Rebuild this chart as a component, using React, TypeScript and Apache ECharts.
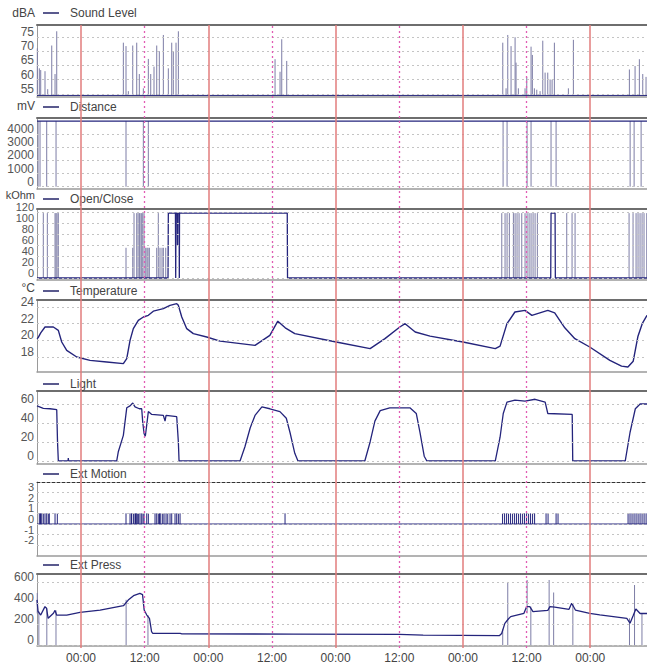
import React, { useEffect, useRef } from 'react';
import * as echarts from 'echarts';

// ---- time axis (hours from the first midnight shown) ----
const T_MIN = -8.3;
const T_MAX = 106.7;
const midnights = [0, 24, 48, 72, 96];
const noons = [12, 36, 60, 84];
const timeTicks = [0, 12, 24, 36, 48, 60, 72, 84, 96];

// ---- panel titles / units ----
const panelTitles = ['Sound Level', 'Distance', 'Open/Close', 'Temperature', 'Light', 'Ext Motion', 'Ext Press'];
const panelUnits = ['dBA', 'mV', 'kOhm', '°C', '', '', ''];

// ---- y tick labels ----
const soundTicks = [55, 60, 65, 70, 75];
const distanceTicks = [0, 1000, 2000, 3000, 4000];
const openCloseTicks = [0, 20, 40, 60, 80, 100, 120];
const temperatureTicks = [18, 20, 22, 24];
const lightTicks = [0, 20, 40, 60];
const motionTicks = [-2, -1, 0, 1, 2, 3];
const pressTicks = [0, 200, 400, 600];

// ---- Sound Level (dBA) ----
const soundFloor = 54.5;
const soundPeaks: [number, number][] = [
  [-8.24, 71], [-7.86, 64], [-7.6, 63.4], [-6.79, 63], [-6.28, 56.7], [-5.52, 72], [-4.9, 62], [-4.58, 77],
  [7.98, 73], [8.48, 71.8], [8.92, 56], [9.75, 72], [10.5, 73], [10.99, 62], [11.75, 57], [12.69, 67.3],
  [13.14, 62], [13.76, 64.6], [14.27, 72], [14.76, 70], [15.52, 75.7], [16.46, 64], [17.1, 73], [17.4, 70],
  [17.91, 73], [18.35, 77],
  [36.58, 67.2], [37.52, 62.8], [37.84, 74.2], [38.78, 66.6],
  [79.51, 73], [80.13, 57], [80.45, 75.7], [81.07, 71.8], [81.83, 74.9], [82.01, 66], [82.45, 57], [83.71, 57],
  [84.03, 61], [84.84, 71.6], [85.09, 68.7], [85.47, 57], [85.92, 56.5], [86.54, 56], [87.05, 73.7], [87.49, 62.5],
  [87.99, 62.5], [88.43, 60.1], [88.81, 60], [89.24, 73], [91.88, 57], [92.82, 74],
  [103.38, 63.6], [104.45, 64.8], [105.26, 67.2], [105.9, 62], [106.52, 61],
];

// ---- Distance (mV) ----
const distanceLevel = 4980;
const distanceDrops = [-8.1, -7.73, -6.47, -4.71, 8.48, 11.75, 12.69, 79.57, 80.32, 84.09, 84.84, 88.61, 89.56, 103.52, 104.27, 105.59];

// ---- Open/Close (kOhm) ----
const openCloseLine: [number, number][] = [
  [T_MIN, 0], [16.4, 0], [16.46, 118], [17.8, 118], [17.85, 0], [17.9, 118], [18.15, 118], [18.19, 60],
  [18.23, 118], [18.5, 118], [18.53, 0], [18.57, 118], [38.88, 118], [38.93, 0], [88.55, 0], [88.61, 118],
  [89.37, 118], [89.42, 0], [T_MAX, 0],
];
const openCloseSpikes: [number, number][] = [
  [-7.11, 118], [-6.35, 118], [-4.9, 118], [-4.71, 118], [-4.52, 118], [-4.28, 118],
  [8.48, 55], [9.75, 55], [9.99, 118], [10.5, 118], [10.75, 118], [10.99, 118], [11.12, 118], [11.37, 118],
  [11.63, 118], [11.88, 118], [12.2, 55], [12.44, 55], [12.63, 55], [12.88, 55], [14.27, 55], [14.57, 118],
  [14.89, 55], [15.27, 55], [15.52, 55], [15.97, 55],
  [79.32, 118], [79.94, 118], [80.32, 118], [80.75, 118], [81.51, 118], [81.83, 118], [82.2, 118], [82.58, 118],
  [83.09, 118], [83.71, 118], [84.09, 118], [84.47, 118], [84.84, 118], [85.22, 118], [85.6, 118], [86.03, 118],
  [91.57, 118], [92.57, 118], [93.14, 118],
  [103.32, 118], [104.07, 118], [104.64, 118], [105.01, 118], [105.39, 118], [105.77, 118], [106.14, 118], [106.65, 118],
];

// ---- Temperature (°C) ----
const temperature: [number, number][] = [
  [-8.3, 20.2], [-8.11, 20.3], [-7.6, 20.9], [-6.79, 21.6], [-5.22, 21.6], [-4.28, 21.2], [-3.64, 19.8],
  [-2.7, 18.8], [-0.81, 18.0], [1.7, 17.6], [4.85, 17.4], [7.98, 17.2], [8.62, 17.8], [9.24, 20.0],
  [9.86, 21.4], [10.8, 22.4], [11.75, 22.8], [12.69, 23.0], [13.63, 23.5], [15.52, 23.8], [16.78, 24.2],
  [18.04, 24.4], [18.35, 24.2], [18.99, 22.8], [19.93, 21.4], [21.17, 20.8], [23.7, 20.4], [26.21, 19.9],
  [32.8, 19.4], [35.6, 20.6], [37.1, 22.3], [38.5, 21.5], [40.3, 20.8], [48.1, 19.8], [54.5, 19.0],
  [57.3, 20.2], [60.1, 21.6], [61.1, 22.0], [63.0, 21.0], [65.8, 20.5], [72.0, 19.8], [78.1, 19.0],
  [79.0, 19.3], [80.3, 22.0], [81.8, 23.4], [83.7, 23.6], [85.0, 23.0], [86.5, 23.3], [88.0, 23.6],
  [89.3, 23.3], [91.2, 21.5], [93.1, 20.2], [95.9, 19.2], [99.7, 17.6], [101.9, 16.9], [103.1, 16.8],
  [104.1, 17.5], [105.0, 20.5], [105.8, 22.0], [106.7, 23.0],
];

// ---- Light ----
const light: [number, number][] = [
  [-8.3, 58], [-7.11, 55.4], [-5.85, 55], [-4.58, 54], [-4.43, 20], [-4.28, 0], [-2.45, 0], [-2.4, 3], [-2.34, 0],
  [6.73, 0], [7.04, 10], [7.98, 27], [8.62, 56], [9.24, 58], [9.75, 61], [10.18, 57], [10.99, 55], [11.44, 55],
  [11.63, 41], [11.88, 29], [12.12, 26], [12.39, 38], [12.69, 52], [13.33, 49], [15.52, 48], [15.84, 42],
  [16.03, 48], [18.04, 46.6], [18.35, 20], [18.48, 0],
  [29.98, 0], [30.9, 15], [31.9, 35], [32.8, 48], [34.1, 57], [35.6, 55], [37.5, 52], [38.7, 45], [39.4, 30],
  [40.3, 8], [40.9, 0],
  [53.5, 0], [54.5, 20], [55.4, 42], [56.4, 53], [58.2, 56], [62.0, 56], [63.2, 50], [63.9, 30], [64.7, 5], [65.2, 0],
  [78.1, 0], [79.0, 25], [79.6, 50], [80.3, 62], [81.8, 64], [83.7, 63], [85.6, 65], [87.5, 62], [88.0, 50],
  [92.6, 49], [92.7, 0],
  [102.6, 0], [103.5, 30], [104.5, 55], [105.4, 60], [106.7, 60],
];

// ---- Ext Motion ----
const motionLevel = 0;
const motionPulse = 1;
const motionEvents = [
  -7.86, -7.64, -7.41, -7.11, -6.79, -6.47, -6.17, -5.98, -4.9, -4.47,
  8.48, 9.24, 9.52, 9.86, 9.99, 10.27, 10.5, 10.6, 10.86, 11.12, 11.44, 11.69, 11.88, 12.39, 12.69,
  13.95, 14.27, 14.57, 14.8, 15.03, 15.4, 15.65, 16.03, 16.35, 16.78, 17.1, 17.72, 18.04, 18.35, 18.67,
  38.46,
  79.47, 79.85, 80.23, 80.6, 80.98, 81.36, 81.74, 82.11, 82.49, 82.87, 83.25, 83.62, 84.0, 84.38, 84.75,
  85.13, 85.51, 87.67, 88.05, 89.56, 89.93,
  103.13, 103.5, 103.88, 104.26, 104.64, 105.02, 105.39, 105.77, 106.15, 106.53,
];

// ---- Ext Press ----
const press: [number, number][] = [
  [-8.3, 430], [-8.1, 320], [-7.6, 285], [-6.8, 365], [-6.5, 350], [-6.2, 254], [-5.2, 302], [-4.9, 330],
  [-4.6, 285], [-2.7, 285], [-0.2, 311], [3.6, 333], [8.0, 374], [8.9, 428], [9.9, 470], [11.1, 492],
  [11.6, 480], [11.9, 333], [12.4, 285], [12.9, 254], [13.3, 127], [13.5, 112], [18.7, 110], [19.0, 106],
  [40, 104], [60, 102], [64.5, 94], [78.9, 90], [79.3, 110], [79.9, 206], [80.6, 250], [81, 270], [83.5, 302],
  [84, 365], [84.6, 365], [85.2, 317], [88, 330], [88.4, 365], [89.3, 360], [92, 340], [92.5, 397], [93.2, 333],
  [95.9, 302], [97.8, 286], [102.9, 254], [103.5, 207], [104.1, 280], [104.6, 343], [105.4, 300], [106.7, 300],
];
const pressSpikes: [number, number, number][] = [
  [-8.25, 300, 495], [-7.95, 0, 320], [-6.45, 0, 350], [-4.72, 0, 330], [8.5, 0, 430], [12.62, 0, 285],
  [79.5, 0, 150], [80.45, 0, 600], [84.1, 302, 619], [84.8, 0, 365], [88.25, 0, 619], [89.1, 0, 500],
  [92.72, 0, 397], [103.4, 0, 254], [104.35, 0, 571], [105.75, 0, 300],
];

// ---- layout / style ----
const FONT = "'Liberation Sans', Arial, sans-serif";
const NAVY = '#24247c';
const SPIKE = '#7d7da6';
const panelTop = [25, 118, 209, 300, 391, 482, 574];
const panelHeight = [72, 71, 71, 72, 73, 74, 72];
const panelExtent: [number, number][] = [
  [53.95, 79.2], [-175, 5215], [-3.6, 125.5], [16.2, 24.84], [-3.2, 73.7], [-3.0, 3.94], [-9.5, 676],
];
const legendTop = [7, 101, 193, 285, 378, 468, 559];
const labelSize = [12, 12, 11, 12, 12, 11, 12];
const unitGap = [12, 12, 14, 12, 12, 12, 12];
const unitSize = [12, 12, 11, 12, 12, 12, 12];

function segments(list: [number, number, number][]) {
  const out: any[] = [];
  list.forEach(([h, lo, hi]) => {
    out.push([h, lo], [h, hi], [h, '-']);
  });
  return out;
}

function buildOption() {
  const tickSets = [soundTicks, distanceTicks, openCloseTicks, temperatureTicks, lightTicks, motionTicks, pressTicks];

  const mains: any[][] = [
    [[T_MIN, soundFloor], [T_MAX, soundFloor]],
    [[T_MIN, distanceLevel], [T_MAX, distanceLevel]],
    openCloseLine,
    temperature,
    light,
    [[T_MIN, motionLevel], [T_MAX, motionLevel]],
    press,
  ];
  const spikeSets: any[][] = [
    segments(soundPeaks.map(([h, v]) => [h, soundFloor, v] as [number, number, number])),
    segments(distanceDrops.map((h) => [h, 0, distanceLevel] as [number, number, number])),
    segments(openCloseSpikes.map(([h, v]) => [h, 0, v] as [number, number, number])),
    [],
    [],
    segments(motionEvents.map((h) => [h, motionLevel, motionPulse] as [number, number, number])),
    segments(pressSpikes),
  ];
  const spikeColors = [SPIKE, SPIKE, SPIKE, SPIKE, SPIKE, NAVY, SPIKE];
  const mainWidth = [1, 1.2, 1.3, 1.4, 1.3, 1.2, 1.3];

  const grid: any[] = panelTop.map((t, i) => ({ left: 37, right: 0, top: t, height: panelHeight[i] }));
  grid.push({ left: 37, right: 0, top: 25, height: 623 });

  const xAxis: any[] = [];
  panelTop.forEach((_, i) => {
    const last = i === panelTop.length - 1;
    xAxis.push({
      type: 'value', gridIndex: i, position: 'bottom', min: T_MIN, max: T_MAX,
      axisLine: { show: true, onZero: false, lineStyle: { color: '#9a9a9a', width: 1.5 } },
      axisTick: { show: false },
      splitLine: { show: false },
      axisLabel: last
        ? {
            show: true, customValues: timeTicks, margin: 6, fontSize: 12, color: '#444', fontFamily: FONT,
            hideOverlap: false,
            formatter: (v: number) => (Math.round(v) % 24 === 0 ? '00:00' : '12:00'),
          }
        : { show: false },
    });
    xAxis.push({
      type: 'value', gridIndex: i, position: 'top', min: T_MIN, max: T_MAX,
      axisLine: {
        show: true, onZero: false,
        lineStyle: i === 5 ? { color: '#333', width: 1, type: [3, 2] } : { color: '#6e6e6e', width: 2 },
      },
      axisTick: { show: false }, splitLine: { show: false }, axisLabel: { show: false },
    });
  });
  xAxis.push({ type: 'value', gridIndex: 7, min: T_MIN, max: T_MAX, show: false });

  const yAxis: any[] = panelTop.map((_, i) => ({
    type: 'value', gridIndex: i, min: panelExtent[i][0], max: panelExtent[i][1],
    name: panelUnits[i], nameLocation: 'end', nameGap: unitGap[i],
    nameTextStyle: { align: 'right', verticalAlign: 'middle', fontSize: unitSize[i], lineHeight: 10, color: '#444', fontFamily: FONT, padding: [0, 2, 0, 0] },
    axisLine: { show: true, onZero: false, lineStyle: { color: '#9a9a9a', width: 1 } },
    axisTick: { show: false },
    splitLine: { show: false },
    axisLabel: { show: false },
  }));
  yAxis.push({ type: 'value', gridIndex: 7, min: 0, max: 1, show: false });

  const series: any[] = [];
  panelTop.forEach((_, i) => {
    if (spikeSets[i].length) {
      series.push({
        name: panelTitles[i] + ' events', type: 'line', xAxisIndex: 2 * i, yAxisIndex: i,
        data: spikeSets[i], showSymbol: false, connectNulls: false, silent: true, z: 2,
        lineStyle: { color: spikeColors[i], width: 1 }, itemStyle: { color: spikeColors[i] },
      });
    }
    series.push({
      name: panelTitles[i], type: 'line', xAxisIndex: 2 * i, yAxisIndex: i,
      data: mains[i], showSymbol: false, silent: true, z: 3,
      lineStyle: { color: NAVY, width: mainWidth[i] }, itemStyle: { color: NAVY },
      markLine: {
        silent: true, symbol: ['none', 'none'], animation: false,
        label: {
          show: true, position: 'start', distance: 3, align: 'right', verticalAlign: 'bottom',
          fontSize: labelSize[i], lineHeight: 10, color: '#555', fontFamily: FONT,
          formatter: (p: any) => String(p.value),
        },
        lineStyle: { color: '#c4c4c4', width: 1, type: [2, 3] },
        data: tickSets[i].map((v) => ({ yAxis: v })),
      },
    });
  });
  series.push({
    name: 'day marks', type: 'line', xAxisIndex: 14, yAxisIndex: 7, data: [], silent: true, z: 1,
    markLine: {
      silent: true, symbol: ['none', 'none'], label: { show: false }, animation: false,
      data: [
        ...midnights.map((v) => ({ xAxis: v, lineStyle: { color: '#e27c7c', width: 1.5, type: 'solid' } })),
        ...noons.map((v) => ({ xAxis: v, lineStyle: { color: '#e25cb4', width: 1.3, type: [2, 3] } })),
      ],
    },
  });

  const legend = panelTitles.map((t, i) => ({
    data: [t], left: 43, top: legendTop[i], padding: 0, icon: 'rect', itemWidth: 16, itemHeight: 2,
    selectedMode: false, itemStyle: { color: '#5a5a8e' },
    textStyle: { fontSize: 12, color: '#444', fontFamily: FONT, padding: [0, 0, 0, 6] },
  }));

  return { animation: false, backgroundColor: '#ffffff', textStyle: { fontFamily: FONT }, grid, xAxis, yAxis, series, legend };
}

export default function App() {
  const ref = useRef<HTMLDivElement>(null);
  useEffect(() => {
    const chart = echarts.init(ref.current!, null, { renderer: 'svg' });
    chart.setOption(buildOption());
    return () => chart.dispose();
  }, []);
  return <div ref={ref} style={{ position: 'fixed', left: 0, top: 0, width: 647, height: 668, background: '#fff' }} />;
}
